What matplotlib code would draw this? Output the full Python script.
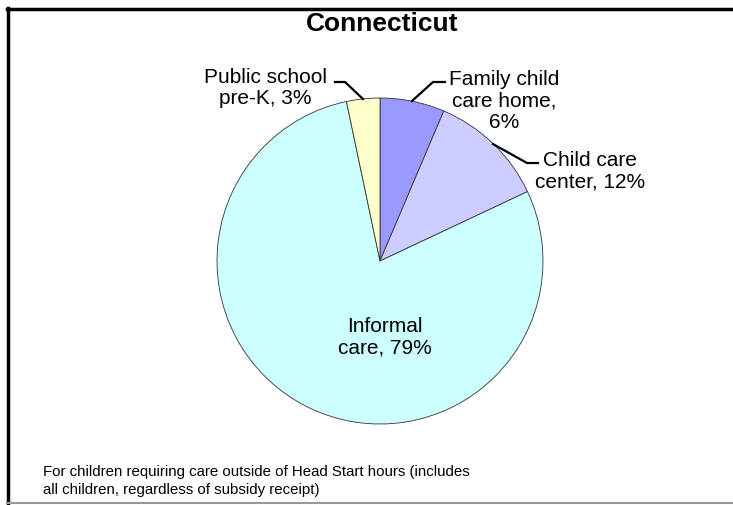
import matplotlib
matplotlib.use("Agg")
import matplotlib.pyplot as plt

plt.rcParams['font.family'] = ['Liberation Sans', 'DejaVu Sans']

# data
categories = ["Family child\ncare home", "Child care\ncenter", "Informal\ncare", "Public school\npre-K"]
values = [6.4, 11.6, 78.7, 3.3]
colors = ["#9999FF", "#CCCCFF", "#CCFFFF", "#FFFFCC"]
title = "Connecticut"
note = "For children requiring care outside of Head Start hours (includes\nall children, regardless of subsidy receipt)"

W, H = 733, 506
fig = plt.figure(figsize=(W / 100, H / 100), dpi=100)

# pie centre / radius in pixels
cx, cy, r = 380, 262, 163
ax = fig.add_axes([(cx - r) / W, (H - cy - r) / H, 2 * r / W, 2 * r / H])
wedges, _ = ax.pie(values, colors=colors, startangle=90, counterclock=False,
                   radius=1, wedgeprops=dict(edgecolor="#333333", linewidth=0.6))
ax.set_xlim(-1, 1)
ax.set_ylim(-1, 1)
ax.set_aspect("equal")
ax.axis("off")

def lab(i):
    return "%s, %d%%" % (categories[i], round(values[i]))

def px(x, y):
    return x / W, 1 - y / H

fs = 15
# labels
fig.text(*px(504, 101), categories[0] + ",\n%d%%" % round(values[0]), ha="center", va="center",
         fontsize=fs, linespacing=1.15)
fig.text(*px(590, 171), lab(1), ha="center", va="center", fontsize=fs, linespacing=1.15)
fig.text(*px(385, 337), lab(2), ha="center", va="center", fontsize=fs, linespacing=1.15)
fig.text(*px(265, 88), lab(3), ha="center", va="center", fontsize=fs, linespacing=1.15)

# leader lines
for pts in [[(412, 102), (433, 83), (445, 83)],
            [(493, 145), (527, 164), (538, 164)],
            [(363, 100), (345, 83), (335, 83)]]:
    xs = [p[0] / W for p in pts]
    ys = [1 - p[1] / H for p in pts]
    fig.add_artist(plt.Line2D(xs, ys, color="black", lw=1.6))

fig.text(*px(382, 24), title, ha="center", va="center", fontsize=19, fontweight="bold")

# footnote
fig.text(*px(43, 481), note, ha="left", va="center", fontsize=10.8, linespacing=1.45)

# frame
fig.add_artist(plt.Line2D([7 / W, 1], [1 - 9.5 / H] * 2, color="black", lw=2.5))
fig.add_artist(plt.Line2D([8 / W] * 2, [1 - 9 / H, 0], color="black", lw=2.5))
fig.add_artist(plt.Line2D([7 / W, 1], [1 - 504 / H] * 2, color="#999999", lw=1.5))

fig.savefig("out.png", dpi=100)
